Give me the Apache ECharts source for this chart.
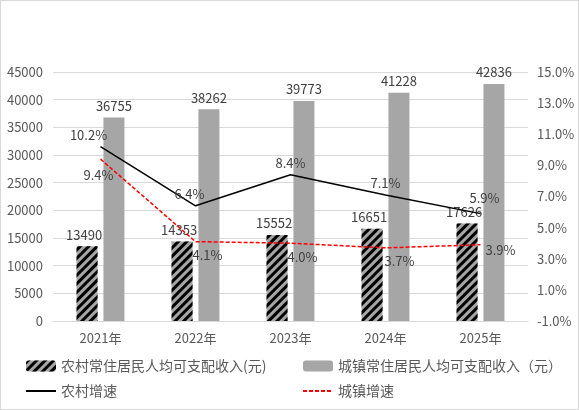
<!DOCTYPE html>
<html lang="zh">
<head>
    <meta charset="UTF-8">
    <title>居民人均可支配收入</title>
    <script src="https://cdn.jsdelivr.net/npm/echarts@6.0.0/dist/echarts.min.js"></script>
    <style>
        html, body {
            margin: 0;
            border: 0;
            background: #fff;
        }

        #chart {
            width: 577px;
            height: 408px;
            border: 1px solid #d9d9d9;
        }
    </style>
</head>
<body>
<div id="chart"></div>
<script type="text/javascript">
    const years = ['2021年', '2022年', '2023年', '2024年', '2025年'];
    const ruralIncome = [13490, 14353, 15552, 16651, 17626];
    const urbanIncome = [36755, 38262, 39773, 41228, 42836];
    const ruralGrowth = [10.2, 6.4, 8.4, 7.1, 5.9];
    const urbanGrowth = [9.4, 4.1, 4.0, 3.7, 3.9];

    const font = '"Noto Sans CJK SC", "Noto Sans", sans-serif';
    const textColor = '#595959';

    window.onload = () => {
        const chart = echarts.init(document.querySelector('#chart'));
        const pct = (p) => p.value.toFixed(1) + '%';
        // label nudges so they sit where the original put them
        const ruralOffsets = [[-12, 0], [-6, 0], [0, 0], [0, 0], [4, -4]];
        const urbanOffsets = [[-2, 4], [12, 2], [12, 2], [14, 2], [0, 5]];
        const legendBase = {
            top: 353,
            orient: 'vertical',
            itemWidth: 30,
            itemHeight: 11,
            itemGap: 11,
            textStyle: {fontSize: 14, color: textColor, fontFamily: font}
        };
        const option = {
            animation: false,
            textStyle: {fontFamily: font},
            grid: {left: 52, right: 50, top: 71, bottom: 88},
            legend: [Object.assign({
                left: 19,
                data: ['农村常住居民人均可支配收入(元)', {name: '农村增速', itemStyle: {opacity: 0}}]
            }, legendBase), Object.assign({
                left: 296,
                data: ['城镇常住居民人均可支配收入（元）', {name: '城镇增速', itemStyle: {opacity: 0}}]
            }, legendBase)],
            xAxis: {
                type: 'category',
                data: years,
                axisLine: {lineStyle: {color: '#d9d9d9'}},
                axisTick: {show: false},
                axisLabel: {color: textColor, fontSize: 13, margin: 11}
            },
            yAxis: [{
                type: 'value',
                min: 0,
                max: 45000,
                interval: 5000,
                axisLabel: {color: textColor, fontSize: 13, margin: 10, formatter: (v) => String(v)},
                splitLine: {lineStyle: {color: '#d9d9d9'}}
            }, {
                type: 'value',
                min: -1,
                max: 15,
                interval: 2,
                axisLabel: {
                    color: textColor, fontSize: 13, margin: 9,
                    formatter: (v) => v.toFixed(1) + '%'
                },
                splitLine: {show: false}
            }],
            series: [{
                name: '农村常住居民人均可支配收入(元)',
                type: 'bar',
                data: ruralIncome,
                barWidth: 21,
                barGap: '28%',
                itemStyle: {
                    color: '#a6a6a6',
                    decal: {
                        symbol: 'rect',
                        color: '#000',
                        dashArrayX: [1, 0],
                        dashArrayY: [3, 3],
                        rotation: -Math.PI / 4
                    }
                },
                label: {show: true, position: 'top', color: '#404040', fontSize: 13, offset: [-3, 0]}
            }, {
                name: '城镇常住居民人均可支配收入（元）',
                type: 'bar',
                data: urbanIncome,
                barWidth: 21,
                itemStyle: {color: '#a6a6a6'},
                label: {show: true, position: 'top', color: '#404040', fontSize: 13}
            }, {
                name: '农村增速',
                type: 'line',
                yAxisIndex: 1,
                z: 3,
                data: ruralGrowth.map((v, i) => ({value: v, label: {offset: ruralOffsets[i]}})),
                symbol: 'circle',
                symbolSize: 0,
                lineStyle: {color: '#000', width: 1.5},
                itemStyle: {color: '#000'},
                label: {show: true, position: 'top', color: '#404040', fontSize: 13, formatter: pct}
            }, {
                name: '城镇增速',
                type: 'line',
                yAxisIndex: 1,
                z: 3,
                data: urbanGrowth.map((v, i) => ({
                    value: v,
                    label: {
                        position: i === 4 ? 'right' : 'bottom',
                        offset: urbanOffsets[i]
                    }
                })),
                symbol: 'circle',
                symbolSize: 0,
                lineStyle: {color: '#ff0000', width: 1.5, type: [4, 2]},
                itemStyle: {color: '#ff0000'},
                label: {show: true, color: '#404040', fontSize: 13, formatter: pct}
            }]
        };
        chart.setOption(option, true);
    }
</script>
</body>
</html>
